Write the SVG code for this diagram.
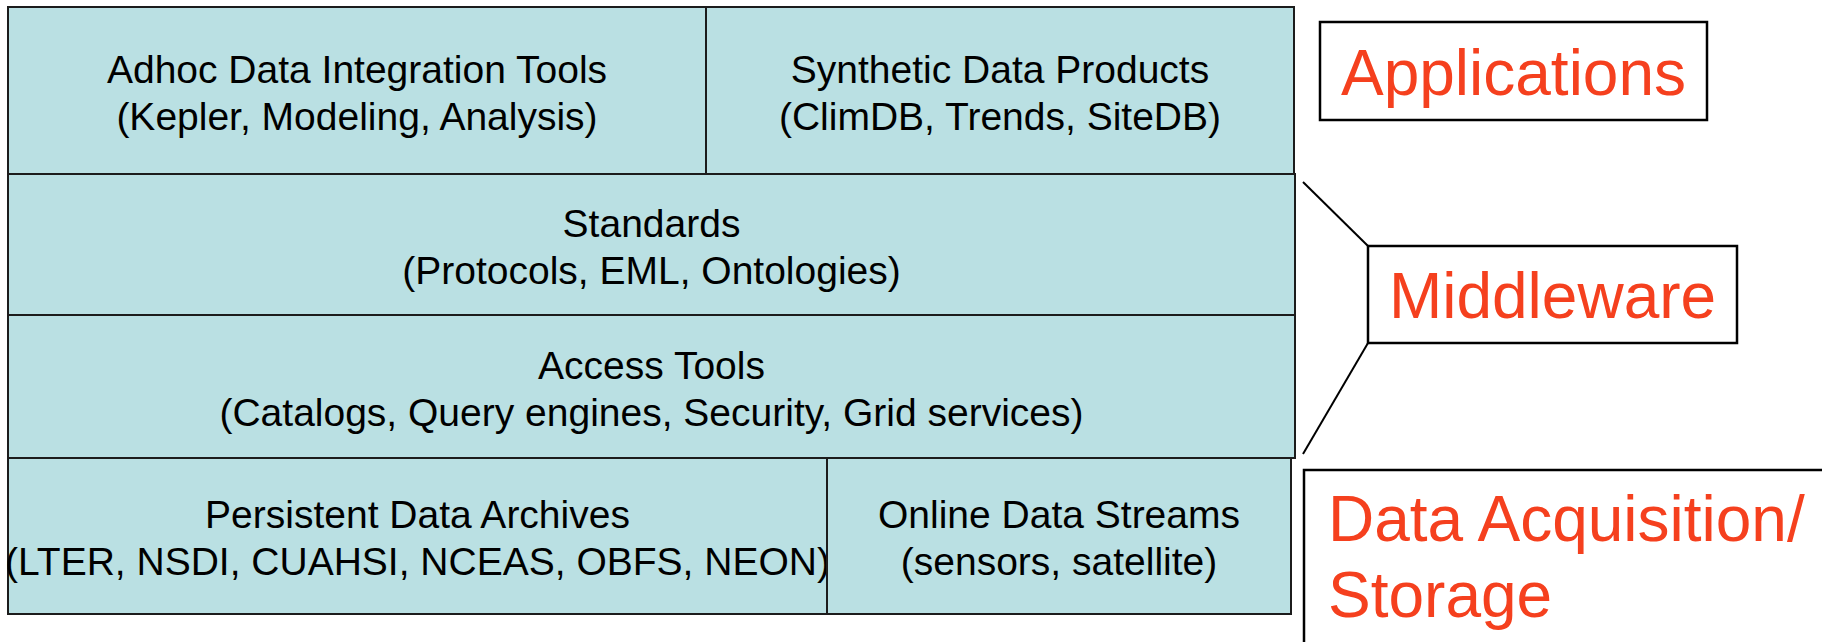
<svg xmlns="http://www.w3.org/2000/svg" width="1822" height="642" viewBox="0 0 1822 642">
<style>
.layer{fill:#BAE0E3;stroke:#1c1c1c;stroke-width:2}
.lt{font-family:"Liberation Sans",Arial,sans-serif;font-size:39px;fill:#000;text-anchor:middle}
.lbl{fill:#fff;stroke:#000;stroke-width:2.5}
.lbt{font-family:"Liberation Sans",Arial,sans-serif;font-size:64px;fill:#F5401E}
.con{stroke:#000;stroke-width:2;fill:none}
</style>
<rect width="1822" height="642" fill="#fff"/>
<g id="adhoc">
<rect class="layer" x="8" y="7" width="698" height="167"/>
<text class="lt" x="357" y="83">Adhoc Data Integration Tools</text>
<text class="lt" x="357" y="130">(Kepler, Modeling, Analysis)</text>
</g>
<g id="synthetic">
<rect class="layer" x="706" y="7" width="588" height="167"/>
<text class="lt" x="1000" y="83">Synthetic Data Products</text>
<text class="lt" x="1000" y="130">(ClimDB, Trends, SiteDB)</text>
</g>
<g id="standards">
<rect class="layer" x="8" y="174" width="1287" height="141"/>
<text class="lt" x="651.5" y="236.5">Standards</text>
<text class="lt" x="651.5" y="283.5">(Protocols, EML, Ontologies)</text>
</g>
<g id="access">
<rect class="layer" x="8" y="315" width="1287" height="143"/>
<text class="lt" x="651.5" y="378.5">Access Tools</text>
<text class="lt" x="651.5" y="425.5">(Catalogs, Query engines, Security, Grid services)</text>
</g>
<g id="persistent">
<rect class="layer" x="8" y="458" width="819" height="156"/>
<text class="lt" x="417.5" y="528">Persistent Data Archives</text>
<text class="lt" x="417.5" y="575">(LTER, NSDI, CUAHSI, NCEAS, OBFS, NEON)</text>
</g>
<g id="online">
<rect class="layer" x="827" y="458" width="464" height="156"/>
<text class="lt" x="1059" y="528">Online Data Streams</text>
<text class="lt" x="1059" y="575">(sensors, satellite)</text>
</g>
<g id="applications">
<rect class="lbl" x="1320" y="22" width="387" height="98"/>
<text class="lbt" x="1513.5" y="95" text-anchor="middle">Applications</text>
</g>
<g id="middleware">
<rect class="lbl" x="1368" y="246" width="369" height="97"/>
<text class="lbt" x="1552.5" y="318" text-anchor="middle">Middleware</text>
</g>
<g id="acquisition">
<rect class="lbl" x="1304" y="470" width="600" height="300"/>
<text class="lbt" x="1328" y="541">Data Acquisition/</text>
<text class="lbt" x="1328" y="617">Storage</text>
</g>
<g id="connectors">
<line class="con" x1="1303" y1="182" x2="1368" y2="246"/>
<line class="con" x1="1368" y1="343" x2="1303" y2="454"/>
</g>
</svg>
